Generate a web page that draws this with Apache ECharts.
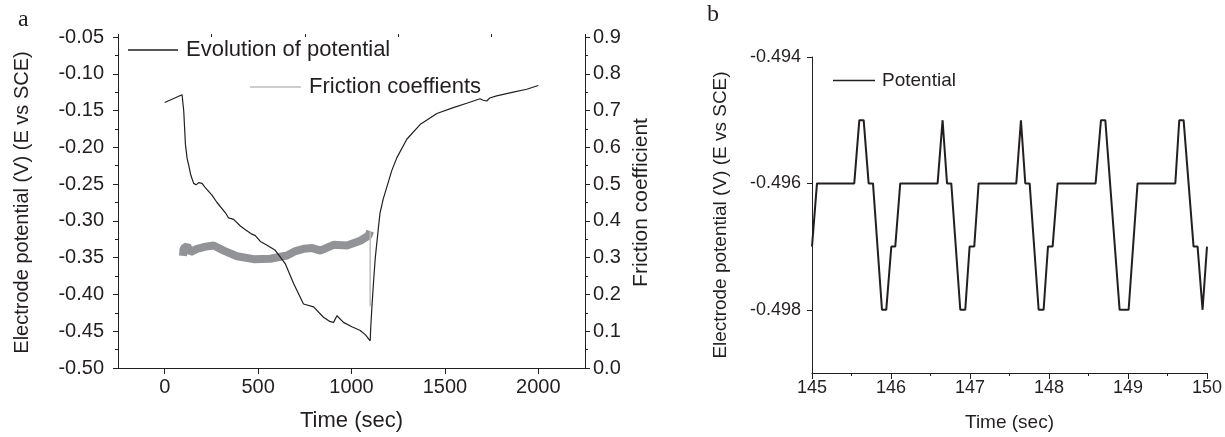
<!DOCTYPE html>
<html>
<head>
<meta charset="utf-8">
<script src="https://cdn.jsdelivr.net/npm/echarts@6/dist/echarts.min.js"></script>
<style>
html,body{margin:0;padding:0;background:#fff;}
#chart{width:1225px;height:437px;}
</style>
</head>
<body>
<div id="chart"></div>
<script>
// Panel a: evolution of potential
var potentialTime = [0,93,97,102,111,120,129,140,155,168,182,200,215,253,280,325,342,369,405,432,467,485,512,548,592,645,690,743,797,850,886,904,922,957,1002,1047,1075,1100,1103,1109,1118,1127,1145,1153,1170,1189,1215,1243,1296,1367,1457,1545,1617,1688,1705,1724,1740,1777,1866,1938,2000];
var potentialValue = [-0.139,-0.1285,-0.131,-0.151,-0.196,-0.215,-0.225,-0.238,-0.249,-0.251,-0.248,-0.249,-0.254,-0.265,-0.275,-0.289,-0.296,-0.298,-0.307,-0.312,-0.318,-0.320,-0.328,-0.333,-0.340,-0.358,-0.385,-0.413,-0.417,-0.431,-0.437,-0.438,-0.429,-0.438,-0.444,-0.449,-0.455,-0.463,-0.445,-0.418,-0.383,-0.351,-0.307,-0.289,-0.270,-0.254,-0.232,-0.214,-0.189,-0.169,-0.154,-0.146,-0.140,-0.134,-0.136,-0.137,-0.133,-0.130,-0.125,-0.121,-0.116];
// Panel a: friction coefficient
var frictionTime = [98,101,120,137,173,220,262,316,387,476,565,655,700,744,790,833,904,976,1047,1091,1100];
var frictionValue = [0.305,0.325,0.332,0.315,0.324,0.330,0.333,0.319,0.304,0.296,0.297,0.306,0.318,0.324,0.326,0.319,0.335,0.333,0.346,0.360,0.372];
var frictionDropTime = [1100,1100];
var frictionDropValue = [0.372,0.168];
// Panel b: potential detail
var bTime = [145,145.063,145.535,145.599,145.654,145.717,145.772,145.886,145.94,146.004,146.054,146.117,146.59,146.653,146.709,146.763,146.877,146.94,146.995,147.054,147.109,147.586,147.645,147.70,147.755,147.869,147.932,147.987,148.046,148.109,148.59,148.658,148.713,148.894,149.008,149.121,149.599,149.649,149.704,149.830,149.881,149.944,150];
var bValue = [-0.497,-0.496,-0.496,-0.495,-0.495,-0.496,-0.496,-0.498,-0.498,-0.497,-0.497,-0.496,-0.496,-0.495,-0.496,-0.496,-0.498,-0.498,-0.497,-0.497,-0.496,-0.496,-0.495,-0.496,-0.496,-0.498,-0.498,-0.497,-0.497,-0.496,-0.496,-0.495,-0.495,-0.498,-0.498,-0.496,-0.496,-0.495,-0.495,-0.497,-0.497,-0.498,-0.497];
// Tick labels
var aXMajor = [0,500,1000,1500,2000];
var aXMinor = [-250,250,750,1250,1750,2250];
var bYTicks = [-0.498,-0.496,-0.494];

function zip(a,b){var r=[];for(var i=0;i<a.length;i++)r.push([a[i],b[i]]);return r;}

var FONT = 'Liberation Sans, Arial, sans-serif';
var INK = '#231f20';
var axisLine = {show:true, onZero:false, lineStyle:{color:INK, width:1}};

var chart = echarts.init(document.getElementById('chart'), null, {renderer:'canvas'});
chart.setOption({
  animation:false,
  backgroundColor:'#fff',
  textStyle:{fontFamily:FONT, color:INK},
  graphic:[
    {type:'text', left:18, top:8, style:{text:'a', font:'24px "Liberation Serif", serif', fill:INK}},
    {type:'text', left:707, top:3, style:{text:'b', font:'24px "Liberation Serif", serif', fill:INK}}
  ],
  legend:[
    {left:123, top:34, itemWidth:50, itemHeight:1.5, textStyle:{fontSize:22, color:INK, fontFamily:FONT, padding:[0,0,0,3]},
     data:[{name:'Evolution of potential', icon:'rect', itemStyle:{color:INK}}]},
    {left:245, top:71, itemWidth:51, itemHeight:1.5, textStyle:{fontSize:22, color:INK, fontFamily:FONT, padding:[0,0,0,3]},
     data:[{name:'Friction coeffients', icon:'rect', itemStyle:{color:'#bdbdbd'}}]},
    {left:828, top:66, itemWidth:42, itemHeight:1.5, textStyle:{fontSize:19, color:INK, fontFamily:FONT, padding:[0,0,0,2]},
     data:[{name:'Potential', icon:'rect', itemStyle:{color:INK}}]}
  ],
  grid:[
    {left:118, top:37, width:467, height:338},
    {left:812, top:57, width:395, height:319}
  ],
  xAxis:[
    {type:'value', gridIndex:0, min:-250, max:2250,
     name:'Time (sec)', nameLocation:'middle', nameGap:42, nameTextStyle:{fontSize:22, color:INK, fontFamily:FONT},
     axisLine:axisLine, splitLine:{show:false},
     axisTick:{show:true, inside:false, length:6, lineStyle:{color:INK}, customValues:aXMajor},
     axisLabel:{fontSize:20, color:INK, margin:9, customValues:aXMajor, formatter:function(v){return String(v);}}},
    {type:'value', gridIndex:0, min:-250, max:2250,
     axisLine:{show:false, onZero:false}, splitLine:{show:false},
     axisTick:{show:true, inside:false, length:3, lineStyle:{color:INK}, customValues:aXMinor},
     axisLabel:{show:false}},
    {type:'value', gridIndex:1, min:145, max:150, interval:1,
     name:'Time (sec)', nameLocation:'middle', nameGap:40, nameTextStyle:{fontSize:19, color:INK, fontFamily:FONT},
     axisLine:axisLine, splitLine:{show:false},
     axisTick:{show:true, inside:false, length:6, lineStyle:{color:INK}},
     minorTick:{show:true, splitNumber:2, length:3, lineStyle:{color:INK}},
     axisLabel:{fontSize:18, color:INK, margin:6, formatter:function(v){return String(v);}}}
  ],
  yAxis:[
    {type:'value', gridIndex:0, min:-0.5, max:-0.05, interval:0.05,
     name:'Electrode potential (V) (E vs SCE)', nameLocation:'middle', nameGap:86, nameRotate:90,
     nameTextStyle:{fontSize:20, color:INK, fontFamily:FONT},
     axisLine:axisLine, splitLine:{show:false},
     axisTick:{show:true, inside:false, length:5, lineStyle:{color:INK}},
     minorTick:{show:true, splitNumber:2, length:3, lineStyle:{color:INK}},
     axisLabel:{fontSize:20, color:INK, margin:14, formatter:function(v){return v.toFixed(2);}}},
    {type:'value', gridIndex:0, position:'right', min:0, max:0.9, interval:0.1,
     name:'Friction coefficient', nameLocation:'middle', nameGap:46, nameRotate:90,
     nameTextStyle:{fontSize:21, color:INK, fontFamily:FONT},
     axisLine:axisLine, splitLine:{show:false},
     axisTick:{show:true, inside:false, length:5, lineStyle:{color:INK}},
     minorTick:{show:true, splitNumber:2, length:3, lineStyle:{color:INK}},
     axisLabel:{fontSize:20, color:INK, margin:8, formatter:function(v){return v.toFixed(1);}}},
    {type:'value', gridIndex:1, min:-0.499, max:-0.494,
     name:'Electrode potential (V) (E vs SCE)', nameLocation:'middle', nameGap:82, nameRotate:90,
     nameTextStyle:{fontSize:19, color:INK, fontFamily:FONT},
     axisLine:axisLine, splitLine:{show:false},
     axisTick:{show:true, inside:false, length:5, lineStyle:{color:INK}, customValues:bYTicks},
     axisLabel:{fontSize:18, color:INK, margin:11, customValues:bYTicks, formatter:function(v){return v.toFixed(3);}}}
  ],
  series:[
    {name:'Friction coeffients', type:'line', xAxisIndex:0, yAxisIndex:1, showSymbol:false, symbol:'none',
     data:zip(frictionTime, frictionValue), lineStyle:{color:'#929396', width:8}, itemStyle:{color:'#929396'}, z:2},
    {name:'Friction coeffients', type:'line', xAxisIndex:0, yAxisIndex:1, showSymbol:false, symbol:'none',
     data:zip(frictionDropTime, frictionDropValue), lineStyle:{color:'#bdbdbd', width:1.5}, itemStyle:{color:'#bdbdbd'}, z:2},
    {name:'Evolution of potential', type:'line', xAxisIndex:0, yAxisIndex:0, showSymbol:false, symbol:'none',
     data:zip(potentialTime, potentialValue), lineStyle:{color:INK, width:1.2}, itemStyle:{color:INK}, z:3},
    {name:'Potential', type:'line', xAxisIndex:2, yAxisIndex:2, showSymbol:false, symbol:'none',
     data:zip(bTime, bValue), lineStyle:{color:INK, width:2}, itemStyle:{color:INK}, z:3}
  ]
});
</script>
</body>
</html>
